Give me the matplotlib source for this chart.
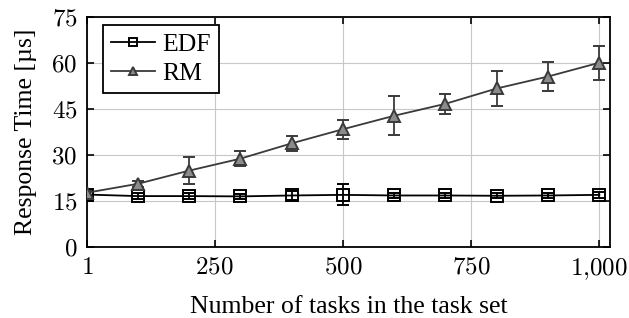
import numpy as np
import matplotlib.pyplot as plt
from matplotlib.ticker import FuncFormatter

plt.rcParams['font.family'] = ['Liberation Serif', 'DejaVu Serif']
plt.rcParams['mathtext.fontset'] = 'cm'

# data
tasks = [1, 100, 200, 300, 400, 500, 600, 700, 800, 900, 1000]
edf_mean = [17.1, 16.6, 16.6, 16.5, 16.8, 17.0, 16.8, 16.8, 16.7, 16.8, 17.0]
edf_err = [1.0, 0.9, 0.9, 0.8, 1.5, 3.4, 0.8, 0.8, 0.8, 0.8, 1.0]
rm_mean = [17.7, 20.6, 24.9, 28.8, 33.8, 38.4, 42.8, 46.7, 51.7, 55.6, 60.1]
rm_err = [0.8, 1.0, 4.5, 2.4, 2.4, 3.1, 6.4, 3.3, 5.7, 4.8, 5.6]
xticks = [1, 250, 500, 750, 1000]
yticks = [0, 15, 30, 45, 60, 75]

fig = plt.figure(figsize=(6.29, 3.18), dpi=100)
ax = fig.add_axes([0.1383, 0.2233, 0.8317, 0.7232])

e1 = ax.errorbar(tasks, edf_mean, yerr=edf_err, color='black', marker='s', markersize=8.5,
                 markerfacecolor='none', markeredgewidth=1.4, linewidth=1.3, capsize=4,
                 elinewidth=1.3, zorder=3)
e2 = ax.errorbar(tasks, rm_mean, yerr=rm_err, color='#3a3a3a', marker='^', markersize=8.5,
                 markerfacecolor='#8c8c8c', markeredgewidth=1.4, linewidth=1.3, capsize=4,
                 elinewidth=1.3, zorder=3)

ax.set_xlim(1, 1021)
ax.set_ylim(0, 75)
ax.set_xticks(xticks)
ax.set_yticks(yticks)
ax.xaxis.set_major_formatter(FuncFormatter(lambda v, p: '$%s$' % format(int(v), ',').replace(',', '{,}')))
ax.yaxis.set_major_formatter(FuncFormatter(lambda v, p: '$%d$' % v))
ax.tick_params(direction='in', top=True, right=True, length=5, width=1.2, labelsize=18, pad=7)
ax.grid(True, color='#c8c8c8', linewidth=0.8)
ax.set_axisbelow(True)
for s in ax.spines.values():
    s.set_linewidth(1.3)

ax.set_xlabel('Number of tasks in the task set', fontsize=18.5, labelpad=10)
ax.set_ylabel('Response Time [µs]', fontsize=18.5, labelpad=10)

leg = ax.legend([e1[0], e2[0]], ['EDF', 'RM'], loc='upper left', fontsize=18.5, fancybox=False,
                framealpha=1, edgecolor='black', handlelength=1.7, borderpad=0.3,
                labelspacing=0.25, handletextpad=0.3, markerscale=0.75, borderaxespad=0,
                bbox_to_anchor=(0.031, 0.965))
leg.get_frame().set_linewidth(1.3)

fig.savefig('out.png', dpi=100)
